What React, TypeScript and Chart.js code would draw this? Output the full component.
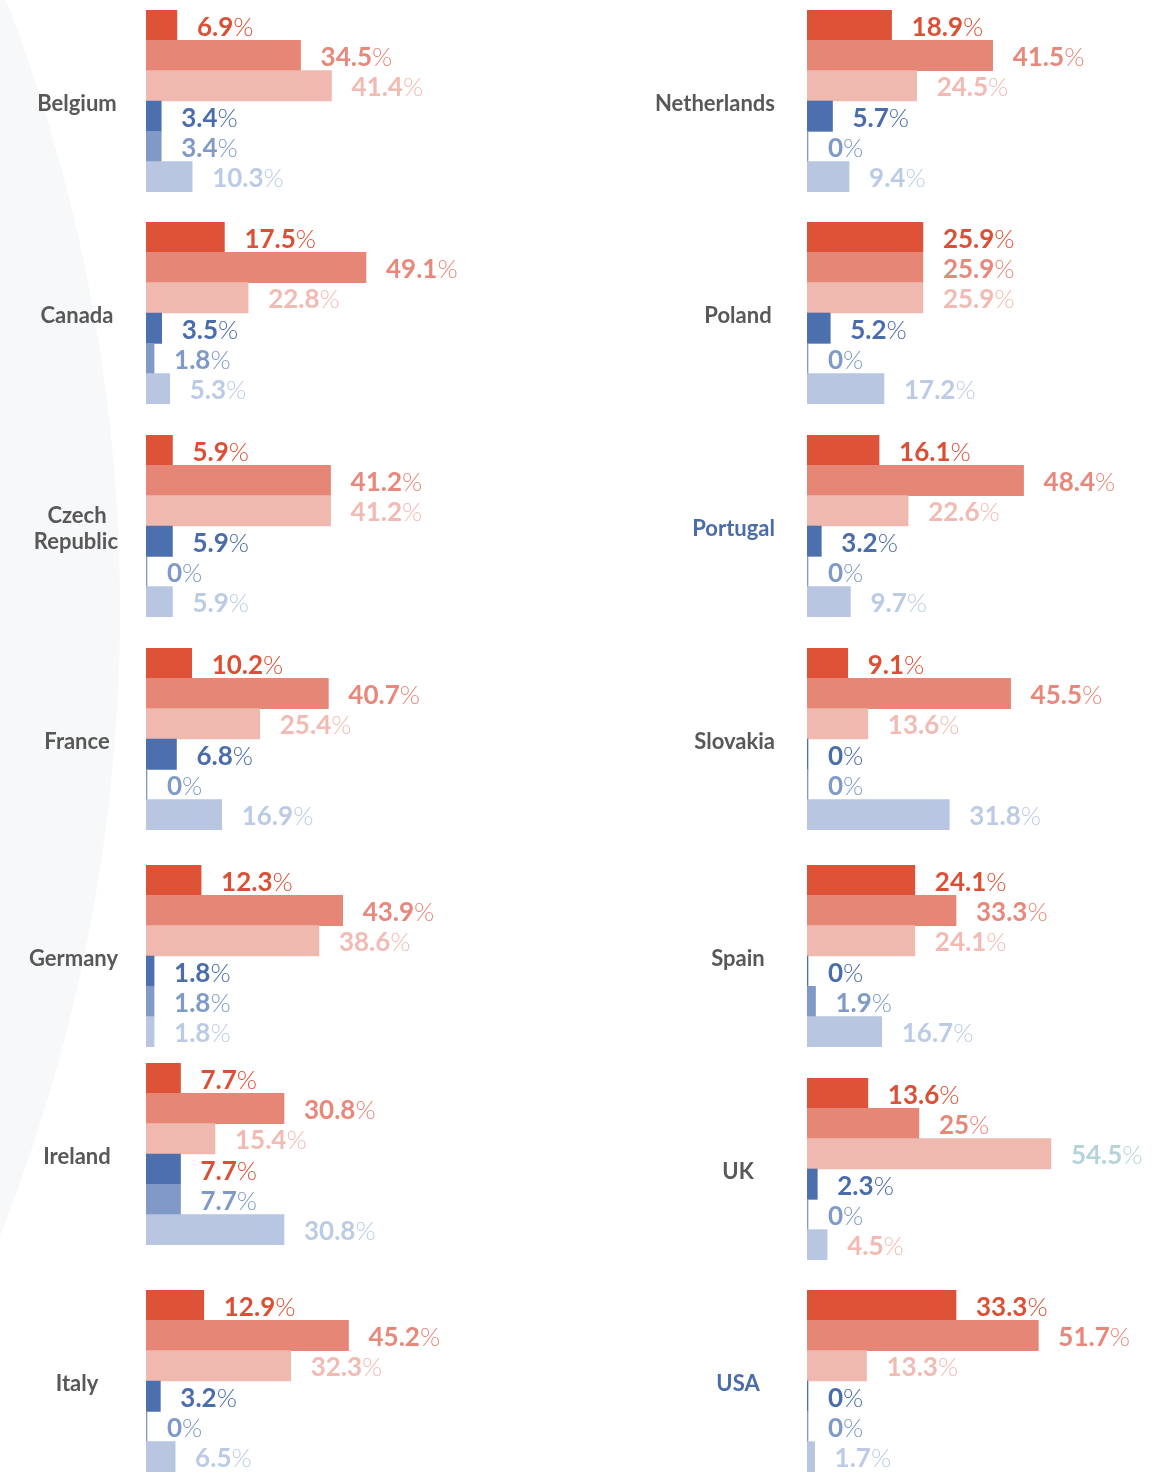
import React, { useEffect, useRef } from "react";
import { Chart, registerables } from "chart.js";

Chart.register(...registerables);

// ---- data ----
const leftCountries = ["Belgium", "Canada", "Czech Republic", "France", "Germany", "Ireland", "Italy"];
const rightCountries = ["Netherlands", "Poland", "Portugal", "Slovakia", "Spain", "UK", "USA"];
const countries = [...leftCountries, ...rightCountries];

const series1 = [6.9, 17.5, 5.9, 10.2, 12.3, 7.7, 12.9, 18.9, 25.9, 16.1, 9.1, 24.1, 13.6, 33.3];
const series2 = [34.5, 49.1, 41.2, 40.7, 43.9, 30.8, 45.2, 41.5, 25.9, 48.4, 45.5, 33.3, 25, 51.7];
const series3 = [41.4, 22.8, 41.2, 25.4, 38.6, 15.4, 32.3, 24.5, 25.9, 22.6, 13.6, 24.1, 54.5, 13.3];
const series4 = [3.4, 3.5, 5.9, 6.8, 1.8, 7.7, 3.2, 5.7, 5.2, 3.2, 0, 0, 2.3, 0];
const series5 = [3.4, 1.8, 0, 0, 1.8, 7.7, 0, 0, 0, 0, 0, 1.9, 0, 0];
const series6 = [10.3, 5.3, 5.9, 16.9, 1.8, 30.8, 6.5, 9.4, 17.2, 9.7, 31.8, 16.7, 4.5, 1.7];
const allSeries = [series1, series2, series3, series4, series5, series6];

const barColors = ["#de5238", "#e68676", "#f0b9b0", "#4c70ae", "#8199c6", "#b8c6e1"];
const labelColors = ["#dd4f35", "#e8877a", "#f2bab2", "#4a6cab", "#7f9ac8", "#bccbe5"];
const highlightedNames = ["Portugal", "USA"];

// ---- layout ----
const PX_PER_PCT = 4.48;
const X_MAX = 80;
const GROUP_H = 182;
const leftTops = [10, 222, 435, 648, 865, 1063, 1290];
const rightTops = [10, 222, 435, 648, 865, 1078, 1290];

function labelColorsFor(country: string): string[] {
  const c = [...labelColors];
  if (country === "Ireland") c[3] = labelColors[0];
  if (country === "UK") {
    c[2] = "#b6d2da";
    c[5] = labelColors[2];
  }
  return c;
}

const textPlugin = {
  id: "groupText",
  afterDatasetsDraw(chart: any, _args: any, opts: any) {
    const ctx = chart.ctx as CanvasRenderingContext2D;
    const meta = chart.getDatasetMeta(0);
    const data = chart.data.datasets[0].data as number[];
    ctx.save();
    ctx.textBaseline = "middle";
    ctx.textAlign = "left";
    meta.data.forEach((bar: any, i: number) => {
      const v = data[i];
      const x = Math.max(bar.x, bar.base) + 20;
      const y = bar.y + 2;
      const num = String(v);
      ctx.fillStyle = opts.colors[i];
      ctx.font = "700 26px Lato";
      ctx.fillText(num, x, y);
      const w = ctx.measureText(num).width;
      ctx.font = "300 26px Lato";
      ctx.fillText("%", x + w, y);
    });
    // country name
    ctx.font = "700 22px Lato";
    ctx.fillStyle = opts.nameColor;
    ctx.textAlign = "center";
    const lines: string[] = opts.name === "Czech Republic" ? ["Czech", "Republic"] : [opts.name];
    const area = chart.chartArea;
    const cy = (area.top + area.bottom) / 2 + 3;
    const lh = 26;
    lines.forEach((ln, k) => {
      const w = ctx.measureText(ln).width;
      let cx = opts.nameX;
      if (cx + w / 2 > opts.nameMaxRight) cx = opts.nameMaxRight - w / 2;
      const y = cy + (k - (lines.length - 1) / 2) * lh;
      ctx.fillText(ln, cx, y);
    });
    ctx.restore();
  },
};

type BlockProps = {
  index: number;
  left: number;
  top: number;
  padLeft: number;
  width: number;
  nameX: number;
  nameMaxRight: number;
};

function CountryBlock(p: BlockProps) {
  const ref = useRef<HTMLCanvasElement | null>(null);
  useEffect(() => {
    if (!ref.current) return;
    const country = countries[p.index];
    const values = allSeries.map((s) => s[p.index]);
    const chart = new Chart(ref.current, {
      type: "bar",
      data: {
        labels: ["a", "b", "c", "d", "e", "f"],
        datasets: [
          {
            data: values,
            backgroundColor: barColors,
            borderWidth: 0,
            barPercentage: 1,
            categoryPercentage: 1,
            minBarLength: 1,
          },
        ],
      },
      options: {
        indexAxis: "y",
        responsive: false,
        animation: false,
        devicePixelRatio: 1,
        layout: { padding: { left: p.padLeft, right: p.width - p.padLeft - X_MAX * PX_PER_PCT, top: 0, bottom: 0 } },
        scales: {
          x: { display: false, min: 0, max: X_MAX },
          y: { display: false },
        },
        plugins: {
          legend: { display: false },
          tooltip: { enabled: false },
          groupText: {
            colors: labelColorsFor(country),
            name: country,
            nameColor: highlightedNames.includes(country) ? "#4a6cab" : "#585858",
            nameX: p.nameX,
            nameMaxRight: p.nameMaxRight,
          },
        } as any,
      },
      plugins: [textPlugin],
    });
    return () => chart.destroy();
  }, []);
  return (
    <canvas
      ref={ref}
      width={p.width}
      height={GROUP_H}
      style={{ position: "absolute", left: p.left, top: p.top, width: p.width, height: GROUP_H }}
    />
  );
}

export default function App() {
  return (
    <div
      style={{
        position: "absolute",
        left: 0,
        top: 0,
        width: 1171,
        height: 1473,
        overflow: "hidden",
        background: "#ffffff",
      }}
    >
      <div
        style={{
          position: "absolute",
          left: -1571 - 1691,
          top: 610 - 1691,
          width: 1691 * 2,
          height: 1691 * 2,
          borderRadius: "50%",
          background: "#f7f8fa",
        }}
      />
      {leftCountries.map((_, i) => (
        <CountryBlock
          key={"l" + i}
          index={i}
          left={0}
          top={leftTops[i]}
          padLeft={146}
          width={506}
          nameX={77}
          nameMaxRight={118}
        />
      ))}
      {rightCountries.map((_, i) => (
        <CountryBlock
          key={"r" + i}
          index={leftCountries.length + i}
          left={600}
          top={rightTops[i]}
          padLeft={207}
          width={565}
          nameX={138}
          nameMaxRight={175}
        />
      ))}
    </div>
  );
}
